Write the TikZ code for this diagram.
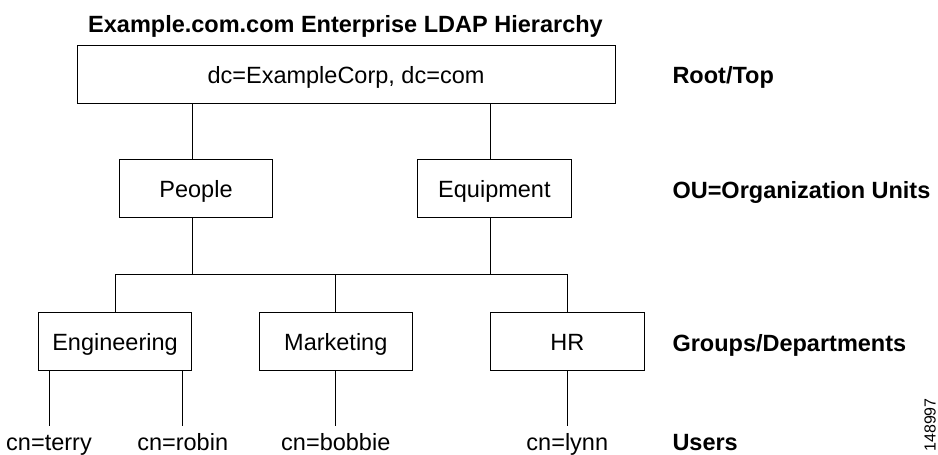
\documentclass[tikz,border=0pt]{standalone}
\usepackage{fontspec}
\setmainfont{Liberation Sans}
\begin{document}
\begin{tikzpicture}[x=1pt,y=-1pt,
  every node/.style={font=\fontsize{23.5}{28}\selectfont, text=black},
  box/.style={draw=black, line width=0.8pt, minimum width=153.4pt, minimum height=58.5pt,
    inner sep=0pt, text height=19pt, text depth=1pt},
  lbl/.style={anchor=base west, inner sep=0pt, font=\fontsize{23.5}{28}\selectfont\bfseries},
  user/.style={anchor=base, inner xsep=0pt, inner ysep=7pt, text height=17pt, text depth=5pt},
  conn/.style={line width=0.8pt, draw=black}]
\useasboundingbox (0,0) rectangle (938,455);

\node[anchor=base, inner sep=0pt, font=\fontsize{23.5}{28}\selectfont\bfseries] (title) at (345.5,32.3) {Example.com.com Enterprise LDAP Hierarchy};

\node[box, minimum width=538pt, minimum height=58.3pt] (root) at (346,74.2) {dc=ExampleCorp, dc=com};
\node[box] (people) at (196,188.3) {People};
\node[box] (equip) at (494.4,188.3) {Equipment};
\node[box] (eng) at (115,341.4) {Engineering};
\node[box] (mkt) at (335.8,341.4) {Marketing};
\node[box] (hr) at (567.3,341.4) {HR};

\coordinate (pd) at (192.7,274.3);
\coordinate (ed) at (490.7,274.3);

\draw[conn] (root.south -| pd) -- (people.north -| pd);
\draw[conn] (root.south -| ed) -- (equip.north -| ed);
\draw[conn] (people.south -| pd) -- (pd);
\draw[conn] (equip.south -| ed) -- (ed);
\draw[conn] (eng.north) -- (eng.north |- pd) -- (hr.north |- pd) -- (hr.north);
\draw[conn] (mkt.north |- pd) -- (mkt.north);

\node[user] (terry) at (49,450) {cn=terry};
\node[user] (robin) at (182.7,450) {cn=robin};
\node[user] (bobbie) at (335.8,450) {cn=bobbie};
\node[user] (lynn) at (567.3,450) {cn=lynn};

\draw[conn] (eng.south -| terry.north) -- (terry.north);
\draw[conn] (eng.south -| robin.north) -- (robin.north);
\draw[conn] (mkt.south) -- (bobbie.north);
\draw[conn] (hr.south) -- (lynn.north);

\node[lbl] (rootlbl) at (672.3,83.3) {Root/Top};
\node[lbl] (oulbl) at (672.3,198) {OU=Organization Units};
\node[lbl] (grplbl) at (672.3,351) {Groups/Departments};
\node[lbl] (userlbl) at (672.3,450) {Users};

\node[font=\fontsize{16}{19}\selectfont, rotate=90, anchor=base east, inner sep=0pt] (fig) at (935.5,398) {148997};
\end{tikzpicture}
\end{document}
